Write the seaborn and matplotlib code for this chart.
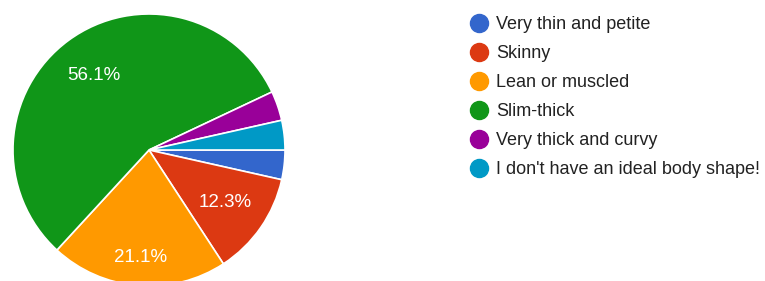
import matplotlib
matplotlib.use("Agg")
import matplotlib.pyplot as plt
from matplotlib.lines import Line2D
import seaborn as sns

labels = ["Very thin and petite", "Skinny", "Lean or muscled", "Slim-thick",
          "Very thick and curvy", "I don't have an ideal body shape!"]
counts = [2, 7, 12, 32, 2, 2]
colors = ["#3366cc", "#dc3912", "#ff9900", "#109618", "#990099", "#0099c6"]

sns.set_theme(style="white")
plt.rcParams["font.family"] = ["Liberation Sans", "DejaVu Sans"]

fig = plt.figure(figsize=(7.65, 2.81), dpi=100)
W, H = 765, 281
cx, cy, r = 149, 131, 136
ax = fig.add_axes([(cx - r) / W, (cy - r) / H, 2 * r / W, 2 * r / H])

palette = sns.color_palette(colors)


def pct(p):
    return f"{p:.1f}%" if p > 5 else ""


wedges, texts, autotexts = ax.pie(
    counts, colors=palette, startangle=0, counterclock=False,
    autopct=pct, pctdistance=0.68, radius=1,
    wedgeprops=dict(edgecolor="white", linewidth=1.2),
    textprops=dict(color="white", fontsize=13.5))
# the orange label sits further out
x, y = autotexts[2].get_position()
autotexts[2].set_position((x * 0.79 / 0.68, y * 0.79 / 0.68))
ax.set_xlim(-1, 1)
ax.set_ylim(-1, 1)
ax.set_aspect("equal")
ax.axis("off")

handles = [Line2D([], [], marker="o", linestyle="", markersize=13,
                  markerfacecolor=c, markeredgecolor=c) for c in palette]
fig.legend(handles, labels, loc="upper left",
           bbox_to_anchor=(468 / W, 1 - 16 / H), frameon=False,
           fontsize=13, labelcolor="#222222", handletextpad=0.35,
           labelspacing=0.67, handlelength=1.2, borderaxespad=0,
           borderpad=0)

fig.savefig("out.png", dpi=100)
